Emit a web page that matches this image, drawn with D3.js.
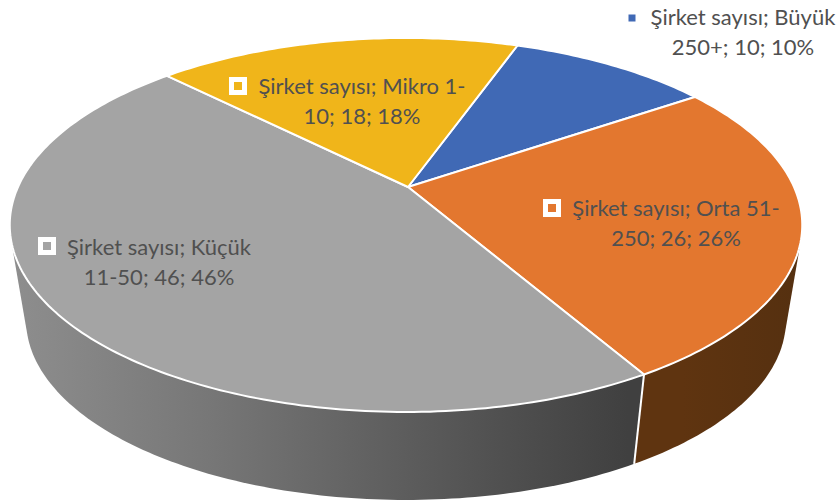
<!DOCTYPE html>
<html>
<head>
<meta charset="utf-8">
<script src="https://cdn.jsdelivr.net/npm/d3@7"></script>
<style>
html, body { margin: 0; padding: 0; background: #fff; }
svg { display: block; }
text { font-family: Lato, "Open Sans", sans-serif; font-size: 22px; fill: #505050; }
</style>
</head>
<body>
<div id="chart"></div>
<script>
const categories = ["Büyük 250+", "Orta 51-250", "Küçük 11-50", "Mikro 1-10"];
const values = [10, 26, 46, 18];
const percents = ["10%", "26%", "46%", "18%"];
const seriesName = "Şirket sayısı";
const colors = ["#4069b5", "#e3772f", "#a4a4a4", "#f0b51a"];
const labelLines = [
    ["Şirket sayısı; Büyük", "250+; 10; 10%"],
    ["Şirket sayısı; Orta 51-", "250; 26; 26%"],
    ["Şirket sayısı; Küçük", "11-50; 46; 46%"],
    ["Şirket sayısı; Mikro 1-", "10; 18; 18%"]
];
const labelPos = [
    { x: 743, y: 25, mx: 632, my: 18, plain: true },
    { x: 676, y: 216, mx: 552, my: 208 },
    { x: 159, y: 255, mx: 47, my: 246 },
    { x: 362, y: 94, mx: 238, my: 86 }
];

const width = 840, height = 502;

// perspective disc, angle 0 at the far side, clockwise
const apexX = 408;
const topDisc = { cx: 406, cy: 187, rx: 388, ry: 179.3 };
const bottomDisc = { cx: 406, cy: 283.5, rx: 372, ry: 172.5 };
const persp = 0.203;
const startAngle = 20 * Math.PI / 180;

function project(a, disc) {
    const u = Math.sin(a), v = Math.cos(a);
    const w = 1 + persp * v;
    return [disc.cx + disc.rx * u / w, disc.cy - disc.ry * v / w];
}

const svg = d3.select("#chart").append("svg")
    .attr("width", width)
    .attr("height", height);

const defs = svg.append("defs");

function sideGradient(id, stops) {
    const g = defs.append("linearGradient")
        .attr("id", id)
        .attr("gradientUnits", "userSpaceOnUse")
        .attr("x1", 10).attr("x2", 802).attr("y1", 0).attr("y2", 0);
    stops.forEach(s => g.append("stop").attr("offset", s[0]).attr("stop-color", s[1]));
}
sideGradient("side0", [[0, "#26406f"], [1, "#26406f"]]);
sideGradient("side1", [[0, "#5f3410"], [0.85, "#5f3410"], [1, "#553010"]]);
sideGradient("side2", [[0, "#8e8e8e"], [0.25, "#777777"], [0.6, "#525252"], [0.78, "#404040"], [1, "#404040"]]);
sideGradient("side3", [[0, "#8f6c10"], [1, "#8f6c10"]]);

const pie = d3.pie()
    .sort(null)
    .startAngle(startAngle)
    .endAngle(startAngle + 2 * Math.PI);

const arcs = pie(values);
const line = d3.line();

function rim(d, disc) {
    const n = Math.max(2, Math.ceil((d.endAngle - d.startAngle) * 60));
    return d3.range(n + 1).map(i =>
        project(d.startAngle + (d.endAngle - d.startAngle) * i / n, disc));
}

// =========================
// SIDE WALLS
// =========================
// hull of both rims gives the straight silhouette edges at far left and right
const walls = svg.append("g");
arcs.forEach((d, i) => {
    const hull = d3.polygonHull(rim(d, topDisc).concat(rim(d, bottomDisc)));
    walls.append("path")
        .attr("d", line(hull) + "Z")
        .attr("fill", `url(#side${i})`);
});

// white edge where the orange and gray walls meet
const seam = arcs[1].endAngle;
svg.append("path")
    .attr("d", line([project(seam, topDisc), project(seam, bottomDisc)]))
    .attr("stroke", "#fff")
    .attr("stroke-width", 2)
    .attr("fill", "none");

// =========================
// TOP FACE
// =========================
svg.append("g").selectAll("path")
    .data(arcs)
    .enter()
    .append("path")
    .attr("d", d => line([[apexX, topDisc.cy]].concat(rim(d, topDisc))) + "Z")
    .attr("fill", (d, i) => colors[i])
    .attr("stroke", "#fff")
    .attr("stroke-width", 2)
    .attr("stroke-linejoin", "round");

// =========================
// LABELS
// =========================
const labels = svg.append("g").selectAll("g")
    .data(labelLines)
    .enter()
    .append("g");

labels.each(function (d, i) {
    const g = d3.select(this);
    const p = labelPos[i];
    if (p.plain) {
        g.append("rect")
            .attr("x", p.mx - 3.5).attr("y", p.my - 3.5)
            .attr("width", 7).attr("height", 7)
            .attr("fill", colors[i]);
    } else {
        g.append("rect")
            .attr("x", p.mx - 9).attr("y", p.my - 9)
            .attr("width", 18).attr("height", 18)
            .attr("fill", "#fff");
        g.append("rect")
            .attr("x", p.mx - 4).attr("y", p.my - 4)
            .attr("width", 8).attr("height", 8)
            .attr("fill", colors[i]);
    }
    d.forEach((t, j) => {
        g.append("text")
            .attr("x", p.x)
            .attr("y", p.y + j * 30)
            .attr("text-anchor", "middle")
            .text(t);
    });
});
</script>
</body>
</html>
